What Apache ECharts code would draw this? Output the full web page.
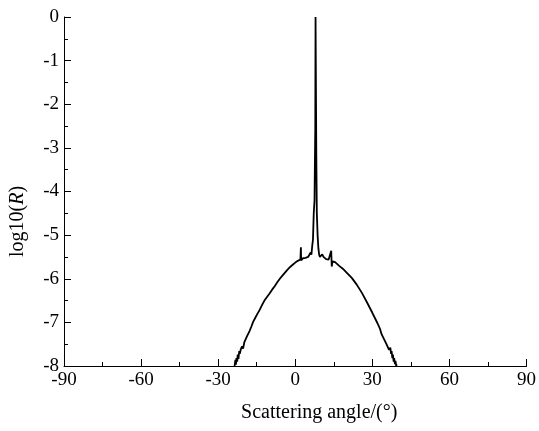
<!DOCTYPE html>
<html>
<head>
<meta charset="utf-8">
<script src="https://cdn.jsdelivr.net/npm/echarts@6/dist/echarts.min.js"></script>
<style>html,body{margin:0;padding:0;background:#fff}#c{width:539px;height:431px}</style>
</head>
<body>
<div id="c"></div>
<script>
const xTicks = [-90, -60, -30, 0, 30, 60, 90];
const yTicks = [-8, -7, -6, -5, -4, -3, -2, -1, 0];
const angle = [
  -23.6, -23.3, -23.1, -22.9, -22.6, -22.4, -22.1, -21.8, -21.6, -21.2, -20.9, -20.7, -20.3, -19.8, -19.3, -18.8, -18.3, -17.8,
  -17.1, -16.4, -15.6, -14.8, -13.9, -12.9, -12.0, -11.0, -10.0, -9.0, -8.0, -7.0, -6.0, -5.0,
  -4.0, -3.0, -2.0, -1.0, 0.0, 1.0, 1.5, 2.0, 2.2, 2.3, 2.5, 3.0, 4.0, 5.0, 5.5, 6.0, 6.3, 6.6,
  6.9, 7.2, 7.5, 7.8, 7.9, 8.1, 8.2, 8.4, 8.7, 9.0, 9.3, 9.6, 10.0, 10.5, 11.0, 11.5, 12.0, 12.5,
  13.0, 13.5, 14.0, 14.2, 14.5, 15.5, 17.0, 18.5, 20.0, 22.0, 24.0, 26.0, 28.0, 30.0, 31.0, 32.0,
  33.0, 33.6, 34.0, 34.5, 35.0, 35.5, 36.0, 36.5, 37.0, 37.3, 37.5, 37.8, 38.0, 38.3, 38.5, 38.8, 39.0, 39.3, 39.5
];
const logR = [
  -8.00, -7.86, -7.97, -7.82, -7.90, -7.74, -7.84, -7.66, -7.72, -7.62, -7.66, -7.55, -7.60, -7.45, -7.42, -7.32, -7.30, -7.20,
  -7.10, -6.99, -6.90, -6.81, -6.72, -6.60, -6.50, -6.42, -6.34, -6.25, -6.17, -6.08, -6.00, -5.93,
  -5.86, -5.79, -5.73, -5.68, -5.63, -5.59, -5.57, -5.56, -5.28, -5.58, -5.55, -5.53, -5.52, -5.50, -5.48, -5.40, -5.45, -5.25,
  -5.10, -4.50, -4.20, -2.50, 0.00, 0.00, -3.20, -4.50, -5.00, -5.30, -5.45, -5.50, -5.48, -5.44, -5.50, -5.53, -5.55, -5.52,
  -5.56, -5.58, -5.36, -5.72, -5.60, -5.62, -5.70, -5.77, -5.86, -5.98, -6.14, -6.33, -6.55, -6.78, -6.90, -7.02,
  -7.15, -7.27, -7.25, -7.38, -7.36, -7.50, -7.48, -7.63, -7.58, -7.72, -7.66, -7.82, -7.74, -7.90, -7.82, -7.96, -7.88, -8.00, -7.96
];
const xName = 'Scattering angle/(°)';

const chart = echarts.init(document.getElementById('c'), null, {renderer: 'canvas'});
const font = 'Liberation Serif';
chart.setOption({
  backgroundColor: '#fff',
  animation: false,
  grid: {left: 63, right: 10, top: 17, bottom: 65, containLabel: false},
  xAxis: {
    type: 'value', min: xTicks[0], max: xTicks[xTicks.length - 1], interval: 30,
    axisLine: {show: true, onZero: false, lineStyle: {color: '#000', width: 1}},
    axisTick: {show: true, inside: true, length: 7, lineStyle: {color: '#000'}},
    minorTick: {show: true, splitNumber: 2, length: 4, lineStyle: {color: '#000'}},
    splitLine: {show: false},
    axisLabel: {color: '#000', fontFamily: font, fontSize: 19, margin: 5},
    name: xName, nameLocation: 'middle', nameGap: 37,
    nameTextStyle: {color: '#000', fontFamily: font, fontSize: 20, padding: [0, 0, 0, 48]}
  },
  yAxis: {
    type: 'value', min: yTicks[0], max: yTicks[yTicks.length - 1], interval: 1,
    axisLine: {show: true, onZero: false, lineStyle: {color: '#000', width: 1}},
    axisTick: {show: true, inside: true, length: 7, lineStyle: {color: '#000'}},
    minorTick: {show: true, splitNumber: 2, length: 4, lineStyle: {color: '#000'}},
    splitLine: {show: false},
    axisLabel: {color: '#000', fontFamily: font, fontSize: 19, margin: 5},
    name: '{n|log10(}{i|R}{n|)}', nameLocation: 'middle', nameGap: 36, nameRotate: 90,
    nameTextStyle: {
      color: '#000', fontFamily: font, fontSize: 20, padding: [0, 60, 0, 0],
      rich: {n: {fontFamily: font, fontSize: 20, color: '#000'},
             i: {fontFamily: font, fontSize: 20, fontStyle: 'italic', color: '#000'}}
    }
  },
  series: [{
    type: 'line', symbol: 'none', clip: true,
    data: angle.map((a, i) => [a, logR[i]]),
    lineStyle: {color: '#000', width: 1.8}
  }]
});
</script>
</body>
</html>
